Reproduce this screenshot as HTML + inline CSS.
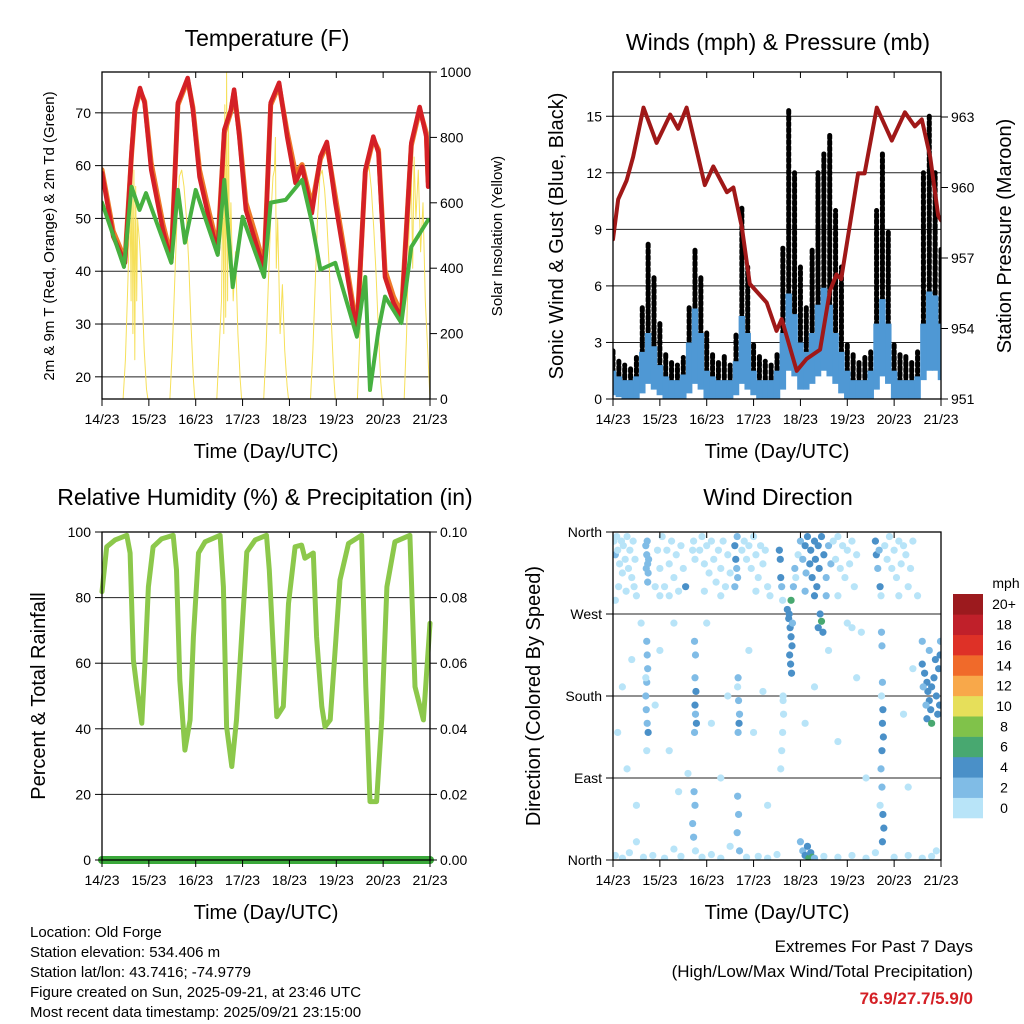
<!DOCTYPE html>
<html><head><meta charset="utf-8">
<style>
body{margin:0;background:#fff;}
svg{display:block;font-family:"Liberation Sans",sans-serif;}
</style></head>
<body>
<svg id="chart" width="1024" height="1024" viewBox="0 0 1024 1024" xmlns="http://www.w3.org/2000/svg">
<rect x="0" y="0" width="1024" height="1024" fill="#fff"/>
<g id="bg"></g><g id="marks"></g><g id="frames"></g><g id="texts"></g>
</svg>
<script>
// ---------------- DATA ----------------
const dayTickLabels = ["14/23","15/23","16/23","17/23","18/23","19/23","20/23","21/23"];
const tempTicks = [20,30,40,50,60,70];
const solarTicks = [0,200,400,600,800,1000];
const windTicks = [0,3,6,9,12,15];
const pressTicks = [951,954,957,960,963];
const rhTicks = [0,20,40,60,80,100];
const precipTicks = ["0.00","0.02","0.04","0.06","0.08","0.10"];
const dirTickLabels = ["North","East","South","West","North"];
const dirTickDeg = [0,90,180,270,360];
const speedBins = ["0","2","4","6","8","10","12","14","16","18","20+"];
const speedColors = ["#b8e4f8","#80bce6","#4a90c8","#48a870","#80c24a","#e6df5a","#f8a84a","#f06a2a","#de3127","#c0202a","#9c1a1e"];

const tempT   = [0,.24,.49,.63,.70,.81,.91,1.05,1.30,1.48,1.62,1.83,1.94,2.08,2.29,2.47,2.61,2.75,2.82,2.93,3.07,3.28,3.46,3.60,3.78,3.95,4.13,4.27,4.48,4.66,4.80,4.98,5.19,5.44,5.62,5.79,5.90,6.04,6.22,6.39,6.60,6.78,6.92,6.96];
const tempRed = [58.6,46.6,41.6,62.4,70.6,74.7,71.9,59.2,47.8,41.8,71.9,76.6,70.6,57.9,49.7,43.5,66.8,70.6,74.4,65.5,51.6,45.4,40.3,71.9,75.7,65.5,56.7,59.8,51.0,61.7,64.5,53.0,41.6,28.3,59.2,65.5,62.4,38.9,34.0,31.1,64.3,71.1,65.5,56.0];
const tempOrange = [59.2,47.6,42.2,62.0,70.2,74.2,72.2,60.5,49.0,42.6,71.5,76.2,71.0,59.2,51.0,44.5,66.2,70.2,74.0,66.2,53.0,46.8,41.0,71.5,75.2,66.4,58.6,60.2,52.4,61.2,64.0,54.2,42.8,29.0,58.8,65.0,63.0,40.2,35.2,32.0,63.8,70.6,66.2,57.0];
const dewT   = [0,.47,.63,.80,.94,1.48,1.62,1.77,2.0,2.47,2.61,2.79,3.0,3.46,3.6,3.92,4.27,4.48,4.66,4.98,5.44,5.62,5.72,5.9,6.04,6.39,6.6,6.96];
const dewVal = [53,40.8,56,51.6,54.8,41.6,55.4,45.4,55.4,43.1,57.3,37,50.3,38.9,53,53.5,57.3,49.2,40.3,41.6,27.6,38.9,17.5,28.9,35.2,30.2,44.6,49.7];
const solarT = [0,.45,.5,.55,.6,.62,.64,.66,.68,.7,.72,.74,.76,.8,.85,.9,.95,.98,
 1.45,1.5,1.55,1.6,1.65,1.7,1.75,1.8,1.85,1.9,1.95,1.98,
 2.45,2.5,2.55,2.58,2.6,2.62,2.64,2.66,2.68,2.7,2.72,2.75,2.8,2.85,2.9,2.95,2.98,
 3.45,3.5,3.55,3.6,3.65,3.68,3.7,3.72,3.75,3.8,3.85,3.9,3.95,3.98,
 4.45,4.5,4.55,4.6,4.65,4.7,4.75,4.8,4.85,4.9,4.95,4.98,
 5.45,5.5,5.55,5.6,5.65,5.7,5.75,5.8,5.85,5.9,5.95,5.98,
 6.45,6.5,6.55,6.6,6.63,6.66,6.7,6.75,6.8,6.85,6.9,6.95,7.0];
const solarV = [0,0,120,350,600,300,760,200,700,120,650,300,550,480,350,150,30,0,
 0,150,350,550,680,700,650,560,420,230,60,0,
 0,150,300,700,200,900,250,1000,300,850,400,600,300,450,200,60,0,
 0,150,350,550,680,700,800,400,550,200,350,150,40,0,
 0,150,350,550,680,700,640,540,400,220,60,0,
 0,180,380,580,700,710,640,520,380,200,50,0,
 0,200,500,680,400,740,550,700,450,600,300,150,0];

const pressT = [0,.11,.29,.43,.65,.93,1.22,1.39,1.57,1.96,2.14,2.43,2.57,2.75,2.92,3.28,3.49,3.6,3.92,4.13,4.42,4.63,4.77,4.87,5.23,5.37,5.63,5.95,6.23,6.44,6.59,6.77,6.94,7.0];
const pressV = [957.8,959.5,960.3,961.3,963.4,961.9,963.1,962.5,963.4,960.1,960.9,959.8,960.0,958.3,955.9,955.1,953.9,954.4,952.2,952.7,953.1,955.6,956.3,956.1,960.6,960.6,963.4,962.0,963.2,962.6,962.9,961.3,958.8,958.6];
const gustHi = [2.6,2,1.8,1.6,2.2,5,8.3,6.5,4,2.5,2,1.8,2.2,5,8,6.5,3.5,2.5,2,2.3,1.8,3.5,10.2,7,3,2.4,2,1.8,2.5,8,15.4,12,7,5,8,12,13,14,10,7,3,2.5,2,2.2,2.5,10,13,9,3,2.5,2.3,2,2.5,12,15,12,8];
const gustLo = [0.8,0.6,0.5,0.5,0.8,1.5,2,1.5,1,0.6,0.5,0.5,0.6,1.5,2,1.5,0.8,0.6,0.5,0.5,0.5,1,2,1.5,0.8,0.5,0.4,0.4,0.6,2.5,4,3,1.5,1.5,2,3,4,3,2,1.2,0.8,0.6,0.5,0.5,0.8,2,3,2,0.8,0.6,0.5,0.5,0.8,4,5,4,3];
const windHi = [1.5,1.2,1,1,1.2,2.5,3.5,2.8,1.8,1.2,1,1,1.3,3,4.8,3.5,1.5,1.2,1,1,1,2,4.4,3.5,1.5,1,1,1,1.5,3.5,5.6,4.5,3,2.5,3.5,5,5.9,5,3.5,2.5,1.5,1,1,1,1.5,4,5.3,4,1.5,1,1,1,1.2,4,5.7,5.5,4];
const windLo = [0.2,0.1,0,0,0,0.3,0.8,0.5,0.2,0,0,0,0,0.3,0.8,0.5,0,0,0,0,0,0.2,0.8,0.5,0.2,0,0,0,0,0.5,1.5,1.2,0.5,0.5,0.8,1.2,1.5,1.2,0.8,0.3,0,0,0,0,0,0.5,1.2,0.8,0,0,0,0,0,1,1.5,1.5,1];

const rhT = [0,.1,.28,.53,.6,.67,.74,.85,.92,.99,1.09,1.27,1.52,1.59,1.66,1.77,1.88,1.95,2.06,2.2,2.52,2.59,2.66,2.77,2.87,2.98,3.09,3.27,3.51,3.57,3.66,3.73,3.87,3.98,4.12,4.26,4.33,4.51,4.58,4.69,4.76,4.87,4.97,5.08,5.26,5.54,5.63,5.72,5.86,5.97,6.08,6.25,6.57,6.68,6.86,7.0];
const rhV = [81.8,95.5,97.6,99,93.6,61,52.8,41.7,61,83.3,95.5,97.9,99,88.4,54.9,33.5,42.7,68,93.6,97,99,83.3,40.6,28.5,42.7,68,93.9,97.6,99,88.4,63,43.7,46.8,78.2,95.5,96,92,93.6,68,46.8,40.6,42.7,63,85.4,96.5,99,52.8,17.8,17.8,42.7,83.3,97,99,52.8,42.7,72.2];
const precipT = [0,7];
const precipV = [0,0];

const windDirObs = [
[0.02,350,1],[0.05,335,3],[0.08,355,1],[0.1,340,1],[0.14,325,1],[0.18,350,1],[0.2,315,1],[0.22,345,1],[0.26,330,1],[0.3,355,1],[0.33,320,1],[0.36,340,1],[0.4,310,1],[0.43,350,1],[0.47,330,1],[0.12,300,1],[0.28,295,1],[0.05,285,1],[0.45,300,1],[0.5,290,1],
[0.7,345,3],[0.72,335,3],[0.74,325,3],[0.75,315,3],[0.73,350,3],[0.76,330,3],[0.71,320,3],[0.74,305,3],[0.72,240,3],[0.73,225,3],[0.74,210,3],[0.72,195,3],[0.7,180,3],[0.71,165,3],[0.73,150,3],[0.75,140,5],[0.72,120,1],[0.7,200,1],
[0.95,340,1],[1.0,320,1],[1.05,355,1],[1.1,300,1],[1.15,340,1],[1.2,325,1],[1.25,350,1],[1.3,310,1],[1.35,335,1],[1.4,295,1],[1.45,345,1],[1.5,320,1],[1.55,300,5],[1.0,290,1],[1.2,290,1],[0.9,300,1],
[1.7,340,1],[1.72,350,1],[1.75,330,1],[1.74,240,3],[1.76,225,3],[1.75,200,3],[1.77,185,5],[1.75,170,5],[1.76,160,3],[1.78,150,5],[1.74,140,3],[1.73,75,3],[1.75,60,3],[1.7,40,3],[1.72,25,3],[1.76,10,1],
[1.85,340,1],[1.9,355,1],[1.95,325,1],[2.0,345,1],[2.05,315,1],[2.1,350,1],[2.15,330,1],[2.2,305,1],[2.25,340,1],[2.3,320,1],[2.35,350,1],[2.4,300,1],[2.45,335,1],[2.5,315,1],[1.95,295,1],[2.3,290,1],
[2.6,345,5],[2.62,330,5],[2.64,320,3],[2.66,310,3],[2.6,300,3],[2.65,355,3],[2.67,200,3],[2.66,190,1],[2.68,175,3],[2.7,160,3],[2.69,150,5],[2.67,140,3],[2.66,70,3],[2.68,50,3],[2.65,30,3],[2.7,10,3],
[2.75,340,1],[2.8,350,1],[2.85,330,1],[2.9,345,1],[2.95,320,1],[3.0,355,1],[3.05,335,1],[3.1,310,1],[3.15,345,1],[3.2,325,1],[3.25,340,1],[3.3,300,1],[3.35,290,1],[3.05,295,1],
[3.55,340,5],[3.57,330,5],[3.58,310,5],[3.6,300,3],[3.62,285,1],[3.63,175,1],[3.64,160,1],[3.62,140,1],[3.6,120,1],[3.58,100,1],[3.63,180,1],
[3.72,275,5],[3.75,265,5],[3.78,255,5],[3.8,245,5],[3.82,235,5],[3.77,225,5],[3.79,215,5],[3.81,205,5],[3.76,270,5],[3.83,260,3],[3.8,285,7],[3.85,300,3],[3.88,320,3],[3.9,310,1],[3.95,335,1],
[4.0,350,3],[4.05,330,3],[4.1,345,5],[4.12,315,3],[4.15,355,5],[4.2,325,5],[4.22,340,5],[4.25,310,5],[4.3,350,5],[4.32,330,5],[4.35,300,5],[4.38,345,5],[4.4,320,5],[4.45,355,5],[4.5,335,5],[4.55,310,3],[4.6,345,3],[4.65,325,3],[4.1,295,3],[4.3,290,5],[4.42,270,5],[4.45,262,7],[4.38,255,5],[4.48,250,5],[4.55,290,3],
[4.7,350,1],[4.75,330,1],[4.8,355,1],[4.85,320,1],[4.9,345,1],[4.95,310,1],[5.0,340,1],[5.05,325,1],[5.1,350,1],[5.15,300,1],[5.2,335,1],[4.8,290,1],[5.0,260,1],[5.1,255,1],
[5.6,350,5],[5.62,335,5],[5.65,320,3],[5.68,340,3],[5.7,300,5],[5.72,290,1],[5.73,250,3],[5.74,235,3],[5.75,195,3],[5.73,180,1],[5.76,165,5],[5.75,150,5],[5.77,135,5],[5.74,120,5],[5.72,100,3],[5.74,80,3],[5.76,50,5],[5.78,35,5],[5.75,20,5],[5.7,60,1],
[5.8,345,1],[5.85,330,1],[5.9,355,1],[5.95,320,1],[6.0,340,1],[6.05,310,1],[6.1,350,1],[6.15,325,1],[6.2,345,1],[6.25,335,1],[6.3,300,1],[6.35,320,1],[6.4,350,1],[6.5,290,1],[6.1,290,1],
[6.6,215,5],[6.65,205,5],[6.7,195,5],[6.72,185,5],[6.75,175,5],[6.78,165,5],[6.8,190,5],[6.85,200,5],[6.9,180,5],[6.95,210,5],[6.98,225,5],[6.68,170,3],[6.62,190,3],[6.88,220,5],[6.93,160,5],[6.7,155,5],[6.75,230,3],[6.99,240,3],[6.8,150,7],[6.6,240,3],[6.97,170,5],
[0.1,140,1],[0.2,190,1],[0.3,100,1],[0.4,220,1],[0.5,60,1],[0.9,170,1],[1.0,230,1],[1.2,120,1],[1.3,260,1],[1.4,75,1],[2.0,260,1],[2.1,150,1],[2.3,90,1],[2.45,180,1],[2.9,230,1],[3.0,140,1],[3.2,185,1],[3.3,60,1],[4.1,150,1],[4.3,190,1],[4.6,230,1],[4.8,130,1],[5.2,200,1],[5.4,90,1],[6.2,160,1],[6.4,210,1],[6.3,80,1],[5.3,250,1],[0.6,260,1],[1.6,95,1],
[0.05,5,1],[0.2,2,1],[0.35,8,1],[0.5,20,1],[0.65,3,1],[0.85,5,1],[1.1,2,1],[1.3,12,1],[1.45,4,1],[1.9,3,1],[2.1,6,1],[2.3,2,1],[2.5,15,1],[2.85,3,1],[3.1,4,1],[3.3,2,1],[3.5,6,1],[4.0,20,3],[4.05,10,3],[4.1,5,5],[4.15,15,5],[4.18,2,7],[4.22,8,5],[4.25,3,7],[4.3,2,3],[4.5,4,1],[4.8,3,1],[5.1,5,1],[5.4,2,1],[5.6,8,1],[6.0,3,1],[6.3,5,1],[6.6,2,1],[6.8,4,1],[6.9,10,1]
];

// ---------------- HELPERS ----------------
const NS = "http://www.w3.org/2000/svg";
const gBg = document.getElementById('bg'), gM = document.getElementById('marks'), gF = document.getElementById('frames'), gTx = document.getElementById('texts');
function mk(tag, attrs, parent){ const e=document.createElementNS(NS,tag); for(const k in attrs) e.setAttribute(k,attrs[k]); parent.appendChild(e); return e; }
function txt(str, x, y, size, anchor, parent, extra){ const e=mk('text',Object.assign({x:x,y:y,'font-size':size,'text-anchor':anchor||'middle',fill:'#000'},extra||{}),parent); e.textContent=str; return e; }

const L = {x0:102,x1:430}, R = {x0:613,x1:941};
const pxDay = 328/7;
const xL = t => L.x0 + t*pxDay;
const xR = t => R.x0 + t*pxDay;
const yTemp = v => 399 - (v-15.8)*5.28;
const ySol = v => 399 - v*0.327;
const yWind = v => 399 - v*18.85;
const yPress = p => 399 - (p-951)*23.5;
const yRH = v => 860 - v*3.28;
const yPrec = v => 860 - v*3280;
const yDir = d => 860 - d*(328/360);

function poly(xs, ys, color, w, name, clip){
  const pts = xs.map((x,i)=>x.toFixed(1)+','+ys[i].toFixed(1)).join(' ');
  const e = mk('polyline',{points:pts,fill:'none',stroke:color,'stroke-width':w,'stroke-linejoin':'round','stroke-linecap':'round'},gM);
  if(clip) e.setAttribute('clip-path',clip);
  
  
  return e;
}

const defs = mk('defs',{},document.getElementById('chart'));
[['cp1',L.x0,72,328,327],['cp2',R.x0,72,328,327],['cp3',L.x0,532,328,328],['cp4',R.x0,532,328,328]].forEach(c=>{
  const cp=mk('clipPath',{id:c[0]},defs); mk('rect',{x:c[1],y:c[2],width:c[3],height:c[4]},cp);
});

function panel(x0,x1,y0,y1,name,gridYs){
  gridYs.forEach(y=>{ const g=mk('line',{x1:x0,x2:x1,y1:y,y2:y,stroke:'#222','stroke-width':1},gBg);
    
     });
  const f=mk('rect',{x:x0,y:y0,width:x1-x0,height:y1-y0,fill:'none',stroke:'#000','stroke-width':1.3},gF);
  
  
  dayTickLabels.forEach((lab,i)=>{
    const x = x0 + i*pxDay;
    mk('line',{x1:x,x2:x,y1:y1,y2:y1+7,stroke:'#000','stroke-width':1},gF);
    mk('line',{x1:x,x2:x,y1:y0,y2:y0+6,stroke:'#000','stroke-width':1},gF);
    const t=txt(lab,x,y1+25,14,'middle',gTx);
    
    
  });
  const xt=txt('Time (Day/UTC)',(x0+x1)/2,y1+59,20,'middle',gTx);
  
  
}
function leftTicks(x0,vals,yf,name,fmt){ vals.forEach(v=>{ const y=yf(v);
  mk('line',{x1:x0-7,x2:x0,y1:y,y2:y,stroke:'#000','stroke-width':1},gF);
  const t=txt(fmt?fmt(v):String(v),x0-11,y+5,14,'end',gTx);
  
   }); }
function rightTicks(x1,vals,yf,name,labels){ vals.forEach((v,i)=>{ const y=yf(v);
  mk('line',{x1:x1,x2:x1+7,y1:y,y2:y,stroke:'#000','stroke-width':1},gF);
  const t=txt(labels?labels[i]:String(v),x1+10,y+5,14,'start',gTx);
  
   }); }
function vtitle(str,x,y,size,name){ const t=txt(str,x,y,size,'middle',gTx,{transform:`rotate(-90 ${x} ${y})`});
  
   }
function title(str,x,y,name){ const t=txt(str,x,y,23,'middle',gTx);
  
   }

// ---------- Panel 1 ----------
panel(L.x0,L.x1,72,399,'temperature',tempTicks.map(yTemp));
leftTicks(L.x0,tempTicks,yTemp,'temperature');
rightTicks(L.x1,solarTicks,ySol,'solar');
title('Temperature (F)',267,46,'temperature-title');
vtitle('2m & 9m T (Red, Orange) & 2m Td (Green)',54,236,15,'temperature-y-axis-title');
vtitle('Solar Insolation (Yellow)',502,236,15,'solar-y-axis-title');
poly(solarT.map(xL),solarV.map(ySol),'#f6e05a',1,'solar-insolation-line','url(#cp1)');
poly(tempT.map(xL),tempOrange.map(yTemp),'#ee7a2a',5,'temperature-9m-line','url(#cp1)');
poly(tempT.map(xL),tempRed.map(yTemp),'#d42026',4.5,'temperature-2m-line','url(#cp1)');
poly(dewT.map(xL),dewVal.map(yTemp),'#46b040',4,'dewpoint-line','url(#cp1)');

// ---------- Panel 2 ----------
panel(R.x0,R.x1,72,399,'winds',windTicks.slice(1).map(yWind));
leftTicks(R.x0,windTicks,yWind,'winds');
rightTicks(R.x1,pressTicks,yPress,'pressure');
title('Winds (mph) & Pressure (mb)',778,50,'winds-title');
vtitle('Sonic Wind & Gust (Blue, Black)',563,236,20,'winds-y-axis-title');
vtitle('Station Pressure (Maroon)',1011,236,20,'pressure-y-axis-title');
gustHi.forEach((hi,i)=>{
  const x=xR(i/8);
  const b=mk('line',{x1:x,x2:x,y1:yWind(gustLo[i]),y2:yWind(hi),stroke:'#000','stroke-width':5,'stroke-dasharray':'3 3','stroke-linecap':'round'},gM);
  b.setAttribute('clip-path','url(#cp2)');
  
  
});
windHi.forEach((hi,i)=>{
  const x=xR(i/8);
  const b=mk('line',{x1:x,x2:x,y1:yWind(windLo[i]),y2:yWind(hi),stroke:'#4f98d4','stroke-width':6.5},gM);
  b.setAttribute('clip-path','url(#cp2)');
  
  
});
poly(pressT.map(xR),pressV.map(yPress),'#a01818',4,'pressure-line','url(#cp2)');

// ---------- Panel 3 ----------
panel(L.x0,L.x1,532,860,'humidity',rhTicks.slice(1,5).map(yRH));
leftTicks(L.x0,rhTicks,yRH,'humidity');
rightTicks(L.x1,[0,0.02,0.04,0.06,0.08,0.10],yPrec,'precip',precipTicks);
title('Relative Humidity (%) & Precipitation (in)',265,505,'humidity-title');
vtitle('Percent & Total Rainfall',45,696,20,'humidity-y-axis-title');
poly(rhT.map(xL),rhV.map(yRH),'#8cc84b',5,'relative-humidity-line');
poly(precipT.map(xL),precipV.map(yPrec),'#3aa83a',8,'precipitation-line');

// ---------- Panel 4 ----------
panel(R.x0,R.x1,532,860,'direction',[yDir(90),yDir(180),yDir(270)]);
dirTickDeg.forEach((d,i)=>{ const y=yDir(d);
  mk('line',{x1:R.x0-7,x2:R.x0,y1:y,y2:y,stroke:'#000','stroke-width':1},gF);
  const t=txt(dirTickLabels[i],R.x0-11,y+5,14,'end',gTx);
  
   });
title('Wind Direction',778,505,'direction-title');
vtitle('Direction (Colored By Speed)',540,696,20,'direction-y-axis-title');
windDirObs.forEach(o=>{
  const bin=Math.min(10,Math.floor(o[2]/2));
  const c=mk('circle',{cx:xR(o[0]),cy:yDir(o[1]),r:3.6,fill:speedColors[bin]},gM);
  c.setAttribute('clip-path','url(#cp4)');
  
  
});
const cbTop=594, cbH=224/11;
const mphT=txt('mph',1006,588,14,'middle',gTx);


speedBins.forEach((lab,i)=>{
  const y=cbTop+(10-i)*cbH;
  const r=mk('rect',{x:953,y:y,width:30,height:cbH+0.3,fill:speedColors[i]},gM);
  
  
  const t=txt(lab,1004,y+cbH/2+5,14,'middle',gTx);
  
  
});

// ---------- Footer ----------
const info=["Location: Old Forge","Station elevation: 534.406 m","Station lat/lon: 43.7416; -74.9779","Figure created on Sun, 2025-09-21, at 23:46 UTC","Most recent data timestamp: 2025/09/21 23:15:00"];
info.forEach((s,i)=>{ const t=txt(s,30,937+i*20,15,'start',gTx);
  
   });
const e1=txt('Extremes For Past 7 Days',973,952,17,'end',gTx);


const e2=txt('(High/Low/Max Wind/Total Precipitation)',973,977,17,'end',gTx);


const e3=txt('76.9/27.7/5.9/0',973,1004,17,'end',gTx,{fill:'#d42026','font-weight':'bold'});


</script>
</body></html>
